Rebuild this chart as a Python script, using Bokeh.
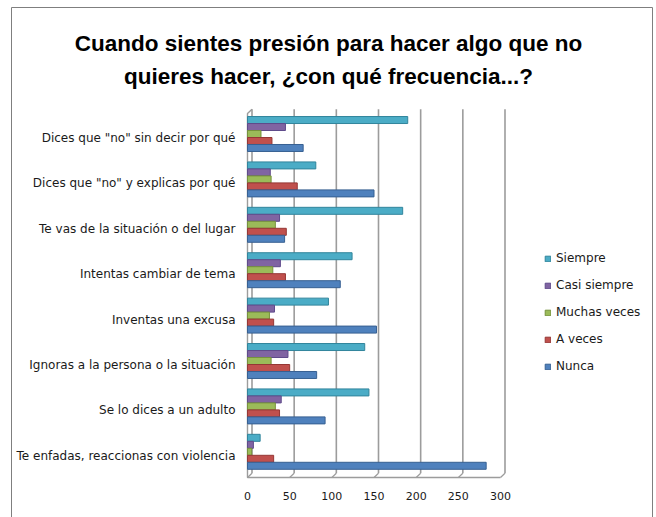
from bokeh.plotting import figure
from bokeh.models import Range1d, Legend, LegendItem, Label, ColumnDataSource
from bokeh.transform import dodge
from bokeh.core.properties import value
from bokeh.embed import file_html
from bokeh.resources import INLINE

categories = ['Dices que "no" sin decir por qué',
              'Dices que "no" y explicas por qué',
              'Te vas de la situación o del lugar',
              'Intentas cambiar de tema',
              'Inventas una excusa',
              'Ignoras a la persona o la situación',
              'Se lo dices a un adulto',
              'Te enfadas, reaccionas con violencia']
siempre = [190, 81, 184, 124, 96, 139, 144, 15]
casi_siempre = [45, 27, 38, 39, 32, 48, 40, 7]
muchas_veces = [16, 28, 33, 30, 26, 28, 33, 5]
a_veces = [29, 59, 46, 45, 31, 50, 38, 31]
nunca = [66, 150, 44, 110, 153, 82, 92, 283]
series_names = ["Siempre", "Casi siempre", "Muchas veces", "A veces", "Nunca"]
ticks = [0, 50, 100, 150, 200, 250, 300]
tick_labels = ["0", "50", "100", "150", "200", "250", "300"]
title_lines = ["Cuando sientes presión para hacer algo que no",
               "quieres hacer, ¿con qué frecuencia...?"]

# ---- style / layout constants (pixels) ----
W, H = 656, 517
PX0, PX300 = 247.0, 500.0          # page x of value 0 and 300
Y0PX, PITCH = 137.5, 45.4          # page y of first category, category pitch
K = (PX300 - PX0) / 300.0
DEPTH_X, DEPTH_Y = 4.5, 4.3        # pseudo-3D depth
WALL_TOP, FLOOR = 113.0, 477.0
colors = ["#4BACC6", "#8064A2", "#9BBB59", "#C0504D", "#4F81BD"]
edges = ["#31859C", "#5F4B8B", "#76923C", "#953735", "#376092"]
offsets = [-0.396, -0.242, -0.088, 0.066, 0.220]
BAR_H = 0.154
LABEL_FONT = "DejaVu Sans"
TITLE_FONT = "Liberation Sans"
GRID = "#9c9c9c"
BORDER = "#7f7f7f"


def xv(px):
    return (px - PX0) / K


def yv(py):
    return (py - Y0PX) / PITCH


p = figure(width=W, height=H, output_backend="svg", toolbar_location=None,
           x_range=Range1d(xv(0), xv(W)), y_range=Range1d(yv(H), yv(0)),
           x_axis_type=None, y_axis_type=None, min_border=0)
p.outline_line_color = None
p.xgrid.visible = False
p.ygrid.visible = False
p.title.text_font_size = "0px"

idx = list(range(len(categories)))
src = ColumnDataSource(dict(idx=idx, cat=categories, s0=siempre, s1=casi_siempre,
                            s2=muchas_veces, s3=a_veces, s4=nunca))

# back-wall grid lines (shifted by the depth) and floor depth ticks
dx = DEPTH_X / K
p.segment(x0=[t + dx for t in ticks], y0=yv(WALL_TOP - DEPTH_Y),
          x1=[t + dx for t in ticks], y1=yv(FLOOR - DEPTH_Y),
          line_color=GRID, line_width=1.6)
p.segment(x0=ticks, y0=yv(FLOOR), x1=[t + dx for t in ticks], y1=yv(FLOOR - DEPTH_Y),
          line_color=GRID, line_width=1.2)
# front floor line and left wall
p.line(x=[ticks[-1], ticks[0], ticks[0], ticks[0] + dx],
       y=[yv(FLOOR), yv(FLOOR), yv(WALL_TOP), yv(WALL_TOP - DEPTH_Y)],
       line_color=GRID, line_width=1.4)

renderers = []
for i, name in enumerate(series_names):
    r = p.hbar(y=dodge("idx", offsets[i]), left=0, right="s%d" % i,
               height=BAR_H, source=src, fill_color=colors[i], line_color=edges[i],
               line_width=1)
    renderers.append(r)

# category labels
p.text(x=xv(235), y="idx", text="cat", source=src, text_align="right",
       text_baseline="middle", text_font=value(LABEL_FONT), text_font_size="12px",
       text_color="#1a1a1a")
# value axis labels
p.text(x=ticks, y=yv(495.7), text=tick_labels, text_align="center",
       text_baseline="middle", text_font=value(LABEL_FONT), text_font_size="11px",
       text_color="#1a1a1a")

# title
for j, t in enumerate(title_lines):
    p.add_layout(Label(x=328, y=H - (43.3 + 32.7 * j), x_units="screen", y_units="screen",
                       text=t, text_align="center", text_baseline="alphabetic",
                       text_font=TITLE_FONT, text_font_style="bold",
                       text_font_size="22.5px", text_color="black"))

# chart border (top, left, right)
p.line(x=[xv(11), xv(11), xv(652), xv(652)], y=[yv(H), yv(7), yv(7), yv(H)],
       line_color=BORDER, line_width=1)

legend = Legend(items=[LegendItem(label=n, renderers=[r]) for n, r in zip(series_names, renderers)],
                location=(544, H - 376.3), glyph_width=7, glyph_height=7, label_standoff=5,
                spacing=7, label_height=20, padding=0, margin=0,
                border_line_color=None, background_fill_alpha=0,
                label_text_font=LABEL_FONT, label_text_font_size="12px",
                label_text_color="#1a1a1a")
p.add_layout(legend)

open("out.html", "w").write(file_html(p, INLINE))
